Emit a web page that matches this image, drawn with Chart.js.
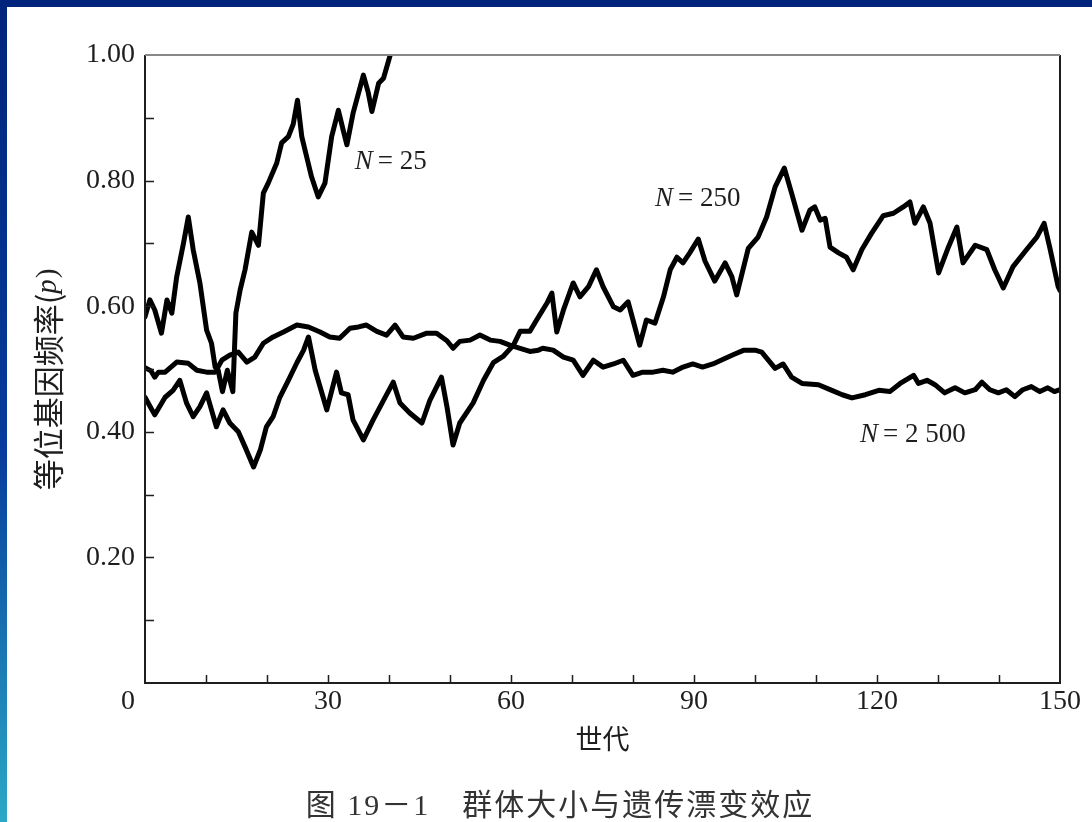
<!DOCTYPE html>
<html>
<head>
<meta charset="utf-8">
<title>群体大小与遗传漂变效应</title>
<script src="https://cdn.jsdelivr.net/npm/chart.js@4.4.0/dist/chart.umd.min.js"></script>
<style>
    html, body { margin: 0; padding: 0; background: #fff; }
    #page { position: relative; width: 1092px; height: 822px; overflow: hidden; background: #fff; }
    #topbar { position: absolute; left: 0; top: 0; width: 1092px; height: 7px; background: #00247b; z-index: 2; }
    #leftbar { position: absolute; left: 0; top: 0; width: 7px; height: 822px; z-index: 2;
        background: linear-gradient(#00247b, #063c9c 55%, #2aa9c6); }
    #wrap { position: absolute; left: 0; top: 0; width: 1092px; height: 822px; }
    #caption { position: absolute; left: 30px; top: 780px; width: 1060px; text-align: center;
        font: 30px "Liberation Serif", "Noto Sans CJK SC", serif; letter-spacing: 2px; color: #333; white-space: pre; }
</style>
</head>
<body>
<div id="page">
    <div id="topbar"></div>
    <div id="leftbar"></div>
    <div id="wrap"><canvas id="drift"></canvas></div>
    <div id="caption">图 19－1　群体大小与遗传漂变效应</div>
</div>
<script>
(function () {
    'use strict';

    // generation / allele frequency, one pair of arrays per population size
    var gen25 = [0, 0.8, 1.6, 2.7, 3.6, 4.4, 5.2, 6.3, 7.1, 7.9, 9.0, 10.1, 10.9, 11.5, 12.0, 12.7, 13.5, 14.4,
        14.9, 15.6, 16.4, 17.5, 18.6, 19.4, 20.2, 21.6, 22.4, 23.5, 24.3, 25.0, 25.7, 26.5, 27.3, 28.4, 29.5,
        30.6, 31.7, 32.5, 33.1, 34.1, 35.8, 36.6, 37.2, 38.3, 39.1, 40.2];
    var p25 = [0.583, 0.61, 0.594, 0.557, 0.61, 0.589, 0.647, 0.70, 0.742, 0.69, 0.637, 0.562, 0.541, 0.503, 0.498,
        0.464, 0.498, 0.464, 0.589, 0.626, 0.658, 0.718, 0.697, 0.780, 0.796, 0.828, 0.86, 0.87, 0.89, 0.928, 0.87,
        0.838, 0.806, 0.774, 0.796, 0.87, 0.912, 0.88, 0.857, 0.907, 0.968, 0.94, 0.91, 0.955, 0.963, 1.0];

    var gen250 = [0, 1.6, 3.3, 4.6, 5.7, 6.8, 7.9, 9.0, 10.1, 10.9, 11.7, 12.8, 13.9, 15.3, 16.4, 17.8, 18.9, 19.9,
        21.0, 22.1, 23.5, 24.9, 26.0, 26.8, 27.9, 29.2, 29.8, 31.4, 32.2, 33.3, 34.1, 35.8, 37.4, 39.1, 40.7, 41.8,
        43.4, 45.4, 46.7, 48.6, 49.5, 50.5, 51.6, 53.8, 55.5, 57.1, 58.7, 60.4, 61.5, 63.1, 64.2, 65.9, 66.7, 67.5,
        68.6, 70.2, 71.3, 72.7, 74.0, 75.1, 76.8, 77.9, 79.2, 80.0, 81.1, 82.2, 83.6, 85.0, 86.1, 87.2, 88.2, 89.3,
        90.7, 91.8, 93.4, 95.1, 96.2, 97.0, 98.9, 100.5, 101.9, 103.3, 104.8, 106.0, 107.7, 109.0, 109.8, 110.7,
        111.5, 112.3, 113.7, 115.0, 116.1, 117.5, 119.1, 121.0, 122.7, 124.3, 125.4, 126.2, 127.6, 128.7, 130.1,
        131.7, 133.1, 134.1, 136.1, 138.0, 139.3, 140.7, 142.3, 144.5, 146.2, 147.4, 148.4, 149.7, 150];
    var p250 = [0.455, 0.427, 0.455, 0.466, 0.482, 0.446, 0.424, 0.44, 0.462, 0.435, 0.408, 0.435, 0.414, 0.40,
        0.376, 0.344, 0.371, 0.408, 0.424, 0.455, 0.482, 0.51, 0.53, 0.551, 0.498, 0.455, 0.435, 0.495, 0.462,
        0.459, 0.419, 0.387, 0.419, 0.45, 0.479, 0.446, 0.43, 0.414, 0.45, 0.487, 0.44, 0.379, 0.414, 0.446, 0.482,
        0.51, 0.52, 0.538, 0.56, 0.56, 0.578, 0.605, 0.621, 0.559, 0.594, 0.637, 0.615, 0.631, 0.658, 0.631, 0.599,
        0.594, 0.607, 0.578, 0.538, 0.578, 0.573, 0.615, 0.658, 0.678, 0.669, 0.685, 0.707, 0.672, 0.64, 0.669,
        0.647, 0.618, 0.692, 0.71, 0.742, 0.79, 0.82, 0.78, 0.721, 0.753, 0.758, 0.737, 0.74, 0.694, 0.685, 0.678,
        0.658, 0.69, 0.716, 0.744, 0.748, 0.758, 0.766, 0.732, 0.758, 0.732, 0.653, 0.694, 0.726, 0.669, 0.697,
        0.69, 0.658, 0.629, 0.663, 0.69, 0.71, 0.732, 0.69, 0.631, 0.625];

    var gen2500 = [0, 1.0, 1.6, 2.2, 3.3, 5.2, 7.1, 8.5, 10.1, 11.5, 12.6, 13.9, 15.3, 16.7, 18.0, 19.4, 21.0, 22.7,
        24.9, 26.8, 28.7, 30.3, 31.9, 33.6, 35.0, 36.3, 38.0, 39.6, 41.0, 42.3, 44.0, 46.2, 47.8, 49.5, 50.5, 51.6,
        53.3, 54.9, 56.6, 58.2, 59.8, 61.5, 63.1, 64.5, 65.2, 66.9, 68.6, 70.2, 71.8, 73.5, 75.1, 76.8, 78.4, 80.0,
        81.6, 83.3, 84.9, 86.5, 88.2, 89.8, 91.4, 93.1, 94.7, 96.5, 98.2, 100.0, 101.1, 103.3, 104.6, 106.0, 107.7,
        110.4, 112.6, 114.3, 115.9, 118.1, 120.3, 122.1, 123.8, 126.0, 126.8, 128.2, 129.5, 131.1, 132.8, 134.4,
        136.1, 137.2, 138.5, 139.9, 141.2, 142.6, 143.9, 145.3, 146.7, 148.0, 149.1, 150];
    var p2500 = [0.502, 0.497, 0.487, 0.495, 0.495, 0.511, 0.509, 0.498, 0.495, 0.495, 0.514, 0.522, 0.527, 0.511,
        0.519, 0.541, 0.551, 0.559, 0.57, 0.567, 0.559, 0.551, 0.549, 0.565, 0.567, 0.57, 0.56, 0.554, 0.57, 0.551,
        0.549, 0.557, 0.557, 0.545, 0.533, 0.544, 0.546, 0.554, 0.546, 0.544, 0.538, 0.533, 0.528, 0.53, 0.533,
        0.53, 0.519, 0.514, 0.49, 0.514, 0.503, 0.508, 0.514, 0.49, 0.495, 0.495, 0.498, 0.495, 0.503, 0.508,
        0.503, 0.508, 0.515, 0.523, 0.53, 0.53, 0.527, 0.501, 0.508, 0.487, 0.477, 0.475, 0.466, 0.459, 0.454,
        0.459, 0.466, 0.464, 0.477, 0.49, 0.477, 0.482, 0.475, 0.462, 0.47, 0.462, 0.467, 0.479, 0.467, 0.462,
        0.467, 0.456, 0.467, 0.472, 0.464, 0.47, 0.464, 0.467];

    // curve labels: population size text and the (generation, p) where the text starts
    var labelNums = ['25', '250', '2 500'];
    var labelGen = [34.4, 83.6, 117.2];
    var labelP = [0.83, 0.771, 0.395];

    var xLabelStep = 30;
    var xMinorStep = 10;
    var yLabelStep = 0.2;
    var yMinorStep = 0.1;

    var serif = '"Liberation Serif", "Times New Roman", serif';
    var cjk = '"Liberation Serif", "Noto Sans CJK SC", sans-serif';
    var ink = '#1e1e1e';

    function toPoints(xs, ys) {
        return xs.map(function (x, i) {
            return { x: x, y: ys[i] };
        });
    }

    function series(label, xs, ys) {
        return {
            label: label,
            data: toPoints(xs, ys),
            borderColor: '#000',
            borderWidth: 5,
            pointRadius: 0,
            tension: 0,
            borderJoinStyle: 'round',
            borderCapStyle: 'round',
        };
    }

    // inward ticks, frame, origin "0", the y title with italic p and the N = ... labels
    var frameAndTicks = {
        id: 'frameAndTicks',
        afterDatasetsDraw: function (chart) {
            var ctx = chart.ctx;
            var area = chart.chartArea;
            var xs = chart.scales.x;
            var ys = chart.scales.y;
            var v, px;

            ctx.save();
            ctx.strokeStyle = ink;
            ctx.lineWidth = 1.5;
            ctx.beginPath();
            for (v = xMinorStep; v < xs.max; v += xMinorStep) {
                px = Math.round(xs.getPixelForValue(v)) + 0.5;
                ctx.moveTo(px, area.bottom);
                ctx.lineTo(px, area.bottom - 8);
            }
            for (v = yMinorStep; v < ys.max - 1e-9; v += yMinorStep) {
                px = Math.round(ys.getPixelForValue(v)) + 0.5;
                ctx.moveTo(area.left, px);
                ctx.lineTo(area.left + 9, px);
            }
            ctx.stroke();

            ctx.lineWidth = 2;
            ctx.beginPath();
            ctx.moveTo(area.left, area.top);
            ctx.lineTo(area.left, area.bottom);
            ctx.lineTo(area.right, area.bottom);
            ctx.lineTo(area.right, area.top);
            ctx.stroke();
            ctx.strokeStyle = '#888';
            ctx.beginPath();
            ctx.moveTo(area.left, area.top);
            ctx.lineTo(area.right, area.top);
            ctx.stroke();

            ctx.fillStyle = ink;
            ctx.font = '28px ' + serif;
            ctx.textAlign = 'center';
            ctx.textBaseline = 'middle';
            ctx.fillText('0', xs.getPixelForValue(0) - 17, area.bottom + 2 + 28 * 0.6);

            // y axis title, rotated, with an italic p
            var head = '等位基因频率(';
            ctx.save();
            ctx.translate(48, (area.top + area.bottom) / 2 + 11);
            ctx.rotate(-Math.PI / 2);
            ctx.font = '31px "Noto Sans CJK SC", sans-serif';
            var wHead = ctx.measureText(head).width;
            ctx.font = 'italic 29px ' + serif;
            var wP = ctx.measureText('p').width;
            ctx.font = '29px ' + serif;
            var wEnd = ctx.measureText(')').width;
            var start = -(wHead + wP + wEnd) / 2;
            ctx.textAlign = 'left';
            ctx.font = '31px "Noto Sans CJK SC", sans-serif';
            ctx.fillText(head, start, 0);
            ctx.font = 'italic 29px ' + serif;
            ctx.fillText('p', start + wHead, 0);
            ctx.font = '29px ' + serif;
            ctx.fillText(')', start + wHead + wP + 1, 0);
            ctx.restore();

            ctx.textAlign = 'left';
            labelNums.forEach(function (num, i) {
                var lx = xs.getPixelForValue(labelGen[i]);
                var ly = ys.getPixelForValue(labelP[i]);
                ctx.font = 'italic 27px ' + serif;
                ctx.fillText('N', lx, ly);
                var w = ctx.measureText('N').width;
                ctx.font = '27px ' + serif;
                ctx.fillText('= ' + num, lx + w + 5, ly);
            });
            ctx.restore();
        },
    };

    var ctx = document.getElementById('drift').getContext('2d');
    new Chart(ctx, {
        type: 'line',
        data: {
            datasets: [
                series('N = 25', gen25, p25),
                series('N = 250', gen250, p250),
                series('N = 2 500', gen2500, p2500),
            ],
        },
        plugins: [frameAndTicks],
        options: {
            responsive: true,
            maintainAspectRatio: false,
            animation: false,
            layout: { padding: { left: 20, top: 55, right: 32, bottom: 60 } },
            plugins: {
                legend: { display: false },
                tooltip: { enabled: false },
            },
            scales: {
                x: {
                    type: 'linear',
                    min: 0,
                    max: 150,
                    grid: { display: false, drawTicks: false },
                    border: { display: false },
                    ticks: {
                        stepSize: xLabelStep,
                        padding: 2,
                        color: ink,
                        maxRotation: 0,
                        font: { family: serif, size: 28 },
                        callback: function (value) {
                            return value === 0 ? '' : String(value);
                        },
                    },
                    title: {
                        display: true,
                        text: '世代',
                        color: ink,
                        font: { family: cjk, size: 27 },
                        padding: { top: 0, bottom: 4 },
                    },
                    afterFit: function (scale) {
                        scale.height = 79;
                    },
                },
                y: {
                    min: 0,
                    max: 1,
                    grid: { display: false, drawTicks: false },
                    border: { display: false },
                    ticks: {
                        stepSize: yLabelStep,
                        padding: 10,
                        color: ink,
                        font: { family: serif, size: 28 },
                        callback: function (value) {
                            return value === 0 ? '' : value.toFixed(2);
                        },
                    },
                    afterFit: function (scale) {
                        scale.width = 125;
                    },
                },
            },
        },
    });
})();
</script>
</body>
</html>
